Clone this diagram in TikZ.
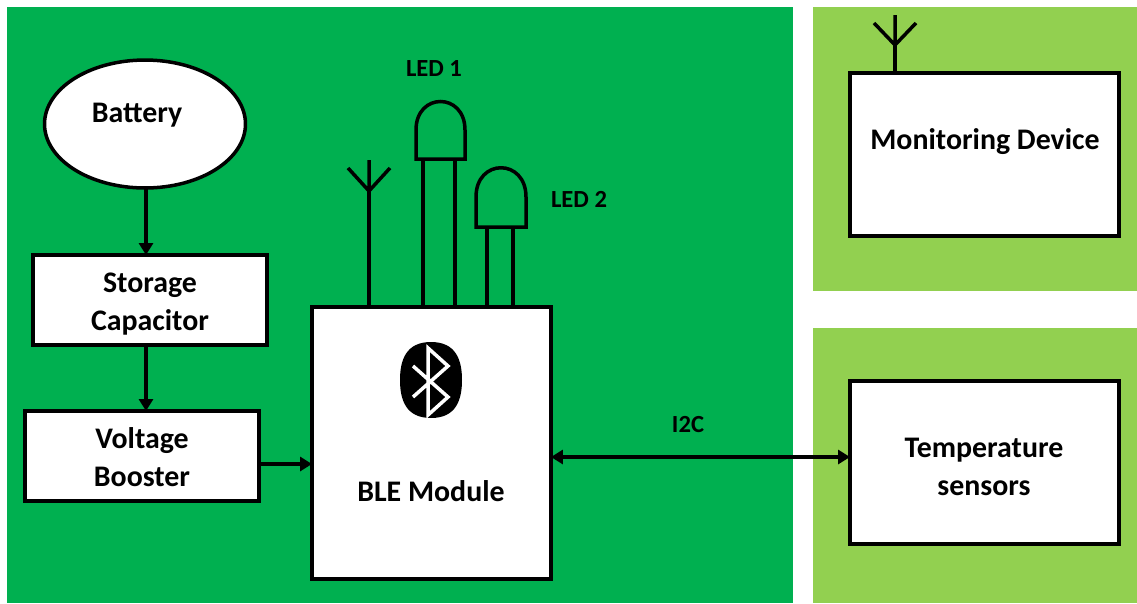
\documentclass[tikz,border=0pt]{standalone}
\usepackage{fontspec}
\setmainfont{Carlito}
\usetikzlibrary{arrows.meta,shapes.geometric}

\tikzset{
  blockbox/.style={draw=black,fill=white,line width=0.07cm,rectangle,outer sep=0pt,inner sep=0pt,align=center,font=\fontsize{17}{21.6}\selectfont\bfseries},
  plaintext/.style={inner sep=0pt,align=center,font=\fontsize{17}{21.6}\selectfont\bfseries},
  smalltext/.style={plaintext,font=\fontsize{14}{17}\selectfont\bfseries},
  wire/.style={draw=black,line width=0.07cm},
  flowtip/.style={-{Triangle[length=0.24cm,width=0.28cm]}},
  bothtip/.style={{Triangle[length=0.24cm,width=0.28cm]}-{Triangle[length=0.24cm,width=0.28cm]}}
}
\definecolor{panelgreen}{HTML}{00B050}
\definecolor{sidegreen}{HTML}{92D050}

\begin{document}
\begin{tikzpicture}[x=0.02cm,y=-0.02cm]

      \useasboundingbox (0,0) rectangle (1137,603);

      \fill[panelgreen] (7,7) rectangle (793,603);
      \fill[sidegreen] (813,7) rectangle (1137,291);
      \fill[sidegreen] (813,328) rectangle (1137,603);

      \begin{scope}[every node/.style={blockbox}]
        \node[ellipse,minimum width=4.02cm,minimum height=2.56cm] (battery) at (145,124) {};
        \node[minimum width=4.68cm,minimum height=1.8cm] (storage) at (150,300) {};
        \node[minimum width=4.68cm,minimum height=1.8cm] (booster) at (142,456) {};
        \node[minimum width=4.78cm,minimum height=5.44cm] (ble) at (431.5,443) {};
        \node[minimum width=5.38cm,minimum height=3.26cm] (monitor) at (984.5,154.5) {};
        \node[minimum width=5.38cm,minimum height=3.26cm] (sensors) at (984.5,462.5) {};
      \end{scope}

      \begin{scope}[every node/.style={plaintext}]
        \node (batterytext) at (137,115) {Battery};
        \node (storagetext) at (150,304) {Storage\\Capacitor};
        \node (boostertext) at (142,457) {Voltage\\Booster};
        \node (bletext)     at (431,491) {BLE Module};
        \node (monitortext) at (985,142) {Monitoring Device};
        \node (sensorstext) at (984,467) {Temperature\\sensors};
      \end{scope}

      \begin{scope}[every node/.style={smalltext}]
        \node (led1text)    at (434,69)  {LED 1};
        \node (led2text)    at (579,199) {LED 2};
        \node (i2ctext)     at (688,425) {I2C};
      \end{scope}

      \coordinate (feed)   at (146,300);
      \coordinate (boost)  at (285,464);
      \coordinate (bus)    at (700,457);
      \coordinate (ant1)   at (369,191);
      \coordinate (ant2)   at (895,45);
      \coordinate (led1a)  at (423,159);
      \coordinate (led1b)  at (455,159);
      \coordinate (led2a)  at (487,227);
      \coordinate (led2b)  at (513,227);

      \begin{scope}[every edge/.style={wire}]
        \path (battery.south -| feed) edge[flowtip] (storage.north -| feed);
        \path (storage.south -| feed) edge[flowtip] (booster.north -| feed);
        \path (booster.east |- boost) edge[flowtip] (ble.west |- boost);
        \path (ble.east |- bus)       edge[bothtip] (sensors.west |- bus);
        \path (ble.north -| ant1)     edge (ant1);
        \path (ble.north -| led1a)    edge (led1a);
        \path (ble.north -| led1b)    edge (led1b);
        \path (ble.north -| led2a)    edge (led2a);
        \path (ble.north -| led2b)    edge (led2b);
        \path (monitor.north -| ant2) edge (ant2);
      \end{scope}

      \draw[wire] (369,160) -- (ant1) (348,168) -- (ant1) -- (390,168);
      \draw[wire] (895,15) -- (ant2) (874,23) -- (ant2) -- (916,23);

      \draw[wire] (416,159) -- (416,130) .. controls (416,92) and (465,92) .. (465,130) -- (465,159) -- cycle;
      \draw[wire] (476,227) -- (476,197) .. controls (476,158) and (526,158) .. (526,197) -- (526,227) -- cycle;

      \fill[black] (431,342) .. controls (456,342) and (462,360) .. (462,380)
        .. controls (462,400) and (456,418) .. (431,418)
        .. controls (406,418) and (400,400) .. (400,380)
        .. controls (400,360) and (406,342) .. (431,342) -- cycle;
      \draw[white,line width=0.07cm] (413,366) -- (448,397) -- (428,415) -- (428,348) -- (448,366) -- (413,397);

    \end{tikzpicture}
\end{document}
